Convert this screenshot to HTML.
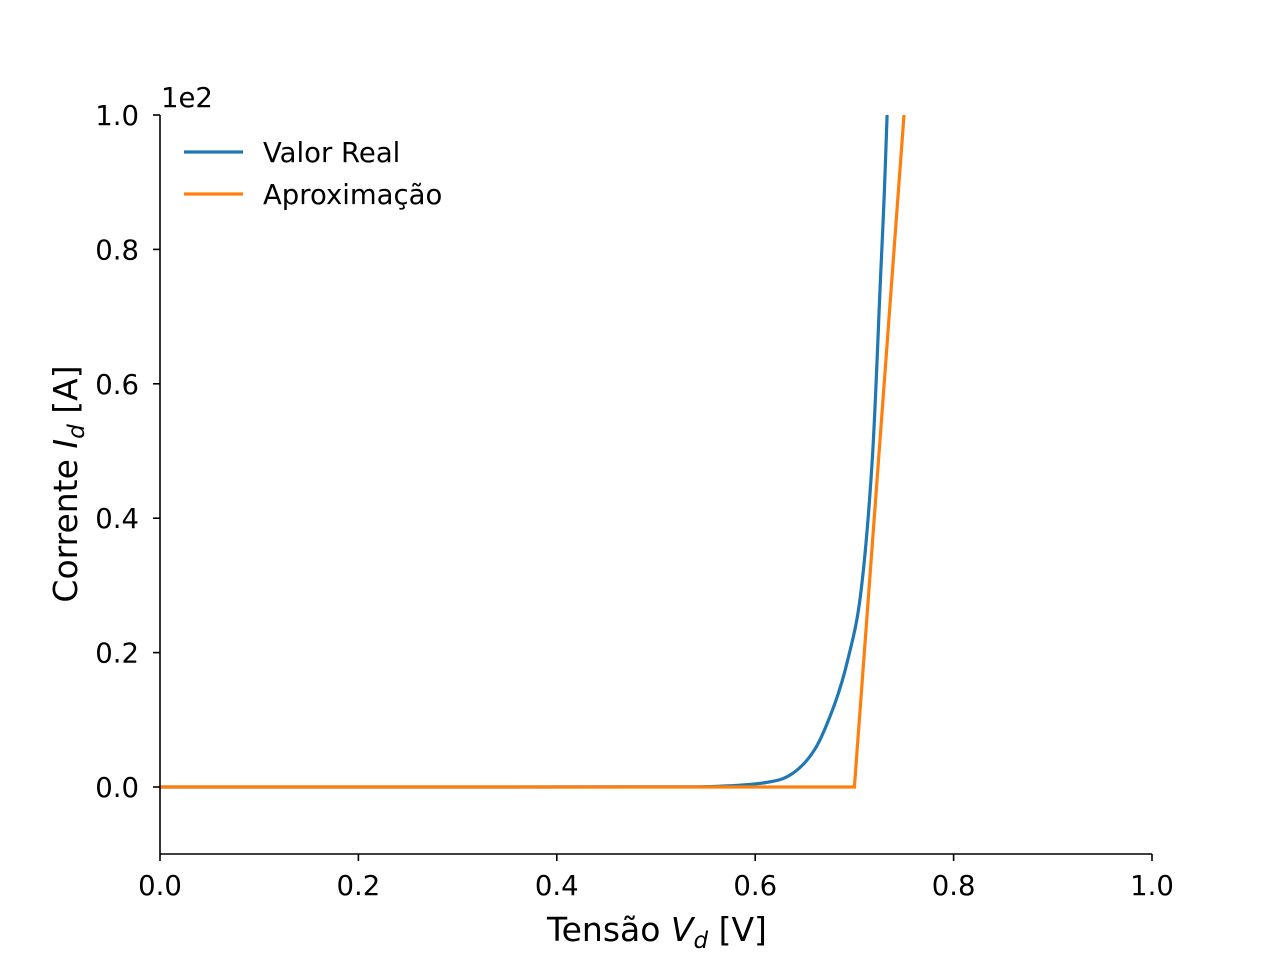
<!DOCTYPE html>
<html><head><meta charset="utf-8"><style>
body{margin:0;background:#fff;}
svg text{font-family:"DejaVu Sans","Liberation Sans",sans-serif;fill:#000;}
</style></head><body>
<svg id="chart" width="1280" height="960" xmlns="http://www.w3.org/2000/svg">
<g id="plot"></g>
</svg>
<script>
const realV = [0.0, 0.3, 0.5, 0.562, 0.611, 0.6375, 0.6605, 0.680, 0.6934, 0.7066, 0.7181, 0.7263, 0.7300, 0.733];
const realI = [0.0, 0.0, 0.0001, 0.001, 0.0067, 0.02, 0.057, 0.123, 0.19, 0.29, 0.49, 0.757, 0.88, 1.0];
const approxV = [0.0, 0.7, 0.75];
const approxI = [0.0, 0.0, 1.0];
const xTicks = [0.0, 0.2, 0.4, 0.6, 0.8, 1.0];
const yTicks = [0.0, 0.2, 0.4, 0.6, 0.8, 1.0];

const X0=160,X1=1152,Y0=787,Y1=115;
const xs=v=>X0+(v-0)/(1-0)*(X1-X0);
const ys=v=>Y0+(v-0)/(1-0)*(Y1-Y0);
const NS="http://www.w3.org/2000/svg";
const g=document.getElementById('plot');
function mk(t,a,p){const e=document.createElementNS(NS,t);for(const k in a)e.setAttribute(k,a[k]);(p||g).appendChild(e);return e;}

const clip=mk('clipPath',{id:'c'});mk('rect',{x:X0,y:Y1,width:X1-X0,height:854-Y1},clip);
const cg=mk('g',{'clip-path':'url(#c)'});
function smoothPath(V,I){
  const P=V.map((v,i)=>[xs(v),ys(I[i])]);
  let d='M'+P[0][0].toFixed(1)+','+P[0][1].toFixed(1);
  for(let i=0;i<P.length-1;i++){
    const p0=P[Math.max(0,i-1)],p1=P[i],p2=P[i+1],p3=P[Math.min(P.length-1,i+2)];
    const c1=[p1[0]+(p2[0]-p0[0])/6,p1[1]+(p2[1]-p0[1])/6];
    const c2=[p2[0]-(p3[0]-p1[0])/6,p2[1]-(p3[1]-p1[1])/6];
    c1[1]=Math.min(c1[1],Y0);c2[1]=Math.min(c2[1],Y0);
    d+=' C'+c1.map(n=>n.toFixed(1)).join(',')+' '+c2.map(n=>n.toFixed(1)).join(',')+' '+p2.map(n=>n.toFixed(1)).join(',');
  }
  return d;
}
const pr=mk('path',{d:smoothPath(realV,realI),fill:'none',stroke:'#1f77b4','stroke-width':3.2,'stroke-linejoin':'round'},cg);


const pa=mk('polyline',{points:approxV.map((v,i)=>xs(v).toFixed(1)+','+ys(approxI[i]).toFixed(1)).join(' '),fill:'none',stroke:'#ff7f0e','stroke-width':3.2},cg);



const la=mk('line',{x1:X0,y1:Y1,x2:X0,y2:854,stroke:'#000','stroke-width':1.6});


const lb=mk('line',{x1:X0,y1:854,x2:X1,y2:854,stroke:'#000','stroke-width':1.6});



xTicks.forEach(v=>{
  mk('line',{x1:xs(v),y1:854,x2:xs(v),y2:861,stroke:'#000','stroke-width':1.6});
  const t=mk('text',{x:xs(v),y:895,'text-anchor':'middle','font-size':27.5});
  t.textContent=v.toFixed(1);
  
  
});
yTicks.forEach(v=>{
  mk('line',{x1:X0,y1:ys(v),x2:X0-7,y2:ys(v),stroke:'#000','stroke-width':1.6});
  const t=mk('text',{x:139,y:ys(v)+10,'text-anchor':'end','font-size':27.5});
  t.textContent=v.toFixed(1);
  
  
});
const m=mk('text',{x:161,y:107,'font-size':27.5});m.textContent='1e2';



const xt=mk('text',{x:657,y:941,'text-anchor':'middle','font-size':33});
xt.innerHTML='Tensão <tspan font-style="italic">V</tspan><tspan font-style="italic" font-size="23" dy="7">d</tspan><tspan dy="-7"> [V]</tspan>';


const yt=mk('text',{x:0,y:0,'text-anchor':'middle','font-size':33,transform:'translate(77,484) rotate(-90)'});
yt.innerHTML='Corrente <tspan font-style="italic">I</tspan><tspan font-style="italic" font-size="23" dy="7">d</tspan><tspan dy="-7"> [A]</tspan>';



[['Valor Real','#1f77b4',152],['Aproximação','#ff7f0e',194]].forEach(([lab,c,y])=>{
  const gg=mk('g',{});
  
  
  mk('line',{x1:184,y1:y,x2:243,y2:y,stroke:c,'stroke-width':3.2},gg);
  const t=mk('text',{x:263,y:y+10,'font-size':27.5},gg);t.textContent=lab;
});
</script>
</body></html>
